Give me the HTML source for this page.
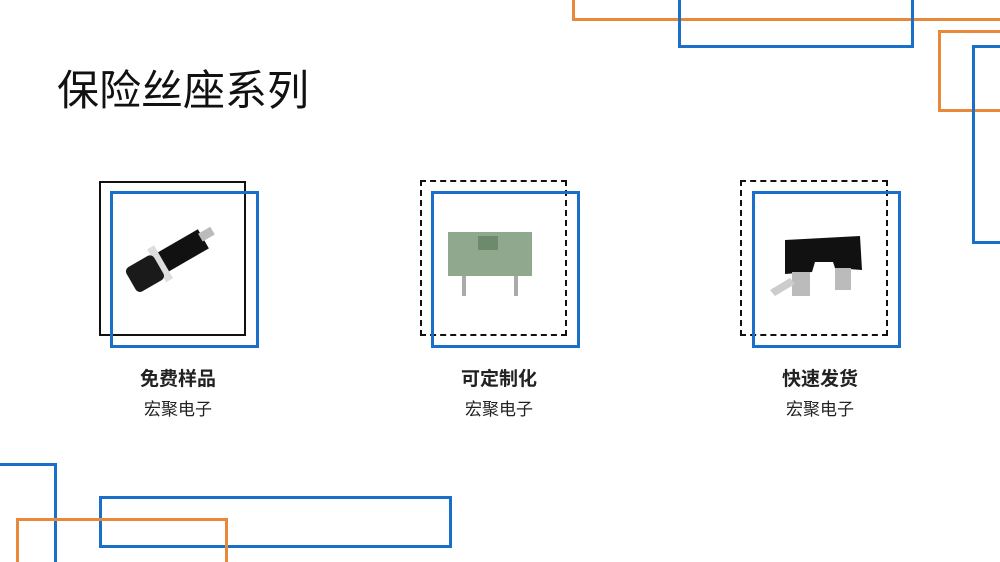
<!DOCTYPE html>
<html><head><meta charset="utf-8"><style>
html,body{margin:0;width:1000px;height:562px;overflow:hidden}
body{background:#fff;position:relative;font-family:"Liberation Sans","Noto Sans CJK SC",sans-serif}
.a{position:absolute;box-sizing:border-box}
.o{border:3px solid #e8883a}.b{border:3px solid #1a6fc9}
.k{border:2px solid #111}.d{border:2px dashed #111}
.t{position:absolute;width:200px;text-align:center;color:#222}
</style></head><body>
<div class="a o" style="left:572px;top:-10px;width:428px;height:31px;border-right:none"></div>
<div class="a b" style="left:678px;top:-10px;width:236px;height:58px"></div>
<div class="a o" style="left:938px;top:30px;width:62px;height:82px;border-right:none"></div>
<div class="a b" style="left:972px;top:45px;width:28px;height:199px;border-right:none"></div>
<div class="a b" style="left:-10px;top:463px;width:67px;height:99px;border-bottom:none"></div>
<div class="a b" style="left:99px;top:496px;width:353px;height:52px"></div>
<div class="a o" style="left:16px;top:518px;width:212px;height:44px;border-bottom:none"></div>
<div style="position:absolute;left:57px;top:57px;font-size:42px;color:#111;font-family:'Noto Sans CJK SC',sans-serif;font-weight:400">保险丝座系列</div>

<div class="a k" style="left:99px;top:181px;width:147px;height:155px"></div>
<div class="a b" style="left:110px;top:191px;width:149px;height:157px"></div>
<div class="a d" style="left:420px;top:180px;width:147px;height:156px"></div>
<div class="a b" style="left:431px;top:191px;width:149px;height:157px"></div>
<div class="a d" style="left:740px;top:180px;width:148px;height:156px"></div>
<div class="a b" style="left:752px;top:191px;width:149px;height:157px"></div>

<svg class="a" style="left:0;top:0" width="1000" height="562">
<g transform="rotate(-30 170 265)">
<rect x="150" y="248" width="62" height="22" fill="#111"/>
<rect x="210" y="252" width="14" height="9" fill="#bbb"/>
<rect x="158" y="240" width="8" height="38" fill="#ddd"/>
<rect x="128" y="246" width="32" height="28" rx="5" fill="#1a1a1a"/>
</g>
<rect x="448" y="232" width="84" height="44" fill="#8fa88e"/>
<rect x="478" y="236" width="20" height="14" fill="#6d8a6d"/>
<rect x="462" y="276" width="4" height="20" fill="#aaa"/><rect x="514" y="276" width="4" height="20" fill="#aaa"/>
<path d="M785 240 L860 236 L862 270 L835 268 L833 262 L815 262 L812 272 L785 274Z" fill="#111"/>
<rect x="792" y="272" width="18" height="24" fill="#bbb"/><rect x="835" y="268" width="16" height="22" fill="#bbb"/>
<path d="M770 290 L790 278 L795 284 L775 296Z" fill="#ccc"/>
</svg>

<div class="t" style="left:78px;top:364px;font-size:19px;font-weight:bold">免费样品</div>
<div class="t" style="left:78px;top:395px;font-size:17px">宏聚电子</div>
<div class="t" style="left:399px;top:364px;font-size:19px;font-weight:bold">可定制化</div>
<div class="t" style="left:399px;top:395px;font-size:17px">宏聚电子</div>
<div class="t" style="left:720px;top:364px;font-size:19px;font-weight:bold">快速发货</div>
<div class="t" style="left:720px;top:395px;font-size:17px">宏聚电子</div>
</body></html>
